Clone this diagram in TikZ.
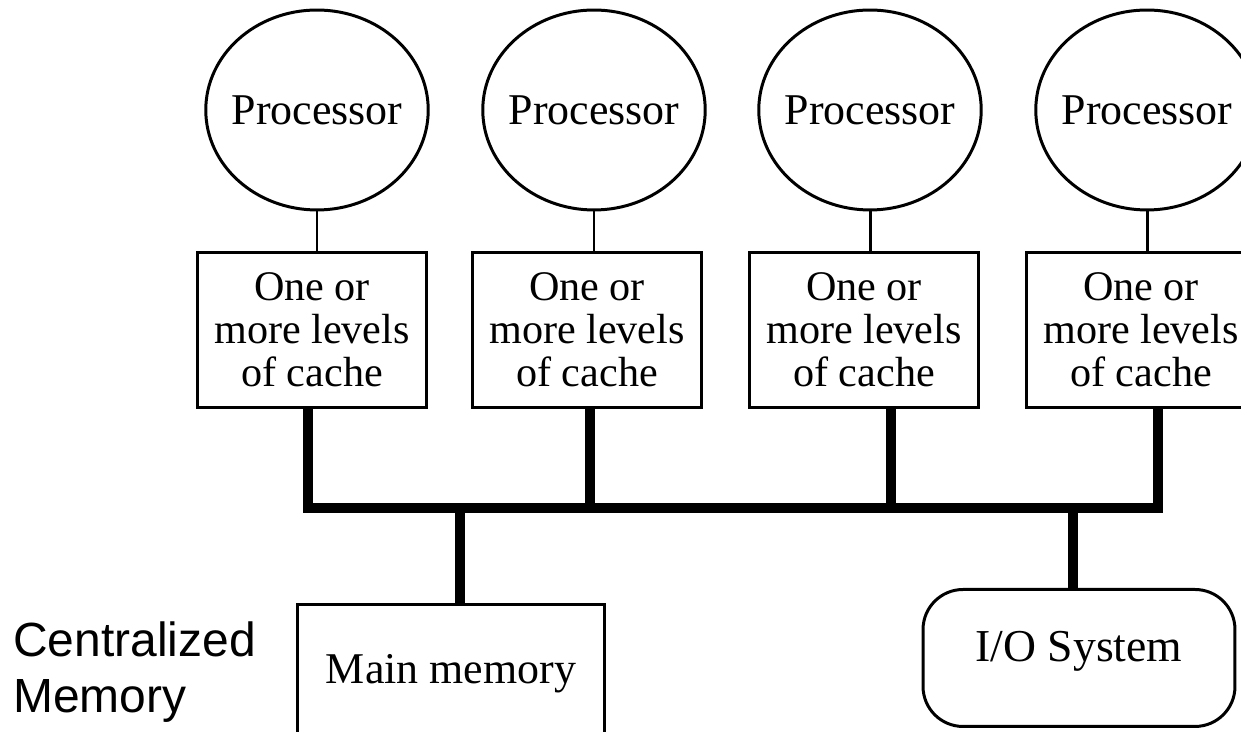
\documentclass[tikz,border=0pt]{standalone}
\usepackage{fontspec}
\setmainfont{Liberation Serif}
\setsansfont{Liberation Sans}
\usetikzlibrary{positioning,shapes.geometric,calc}

\begin{document}
\begin{tikzpicture}[x=0.02cm,y=-0.02cm,
    proc/.style={draw,ellipse,line width=1.7pt,minimum width=4.45cm,minimum height=4cm,inner xsep=-4.2pt,inner ysep=0pt,font=\fontsize{25}{25}\selectfont},
    cache/.style={draw,line width=1.7pt,minimum width=4.6cm,minimum height=3.1cm,align=center,inner sep=0pt,font=\fontsize{24}{24.5}\selectfont},
    store/.style={draw,line width=1.7pt,inner xsep=0pt,inner ysep=0pt,font=\fontsize{25}{25}\selectfont},
    link/.style={line width=1.7pt},
    bus/.style={line width=5.6pt}
  ]
    \useasboundingbox (0,0) rectangle (1241,732);
    \node[proc] (p1) at (317,110) {Processor};
    \node[proc] (p2) at (594,110) {Processor};
    \node[proc] (p3) at (870,110) {Processor};
    \node[proc] (p4) at (1147,110) {Processor};
    \node[cache] (c1) at (312,330) {One or\\more levels\\of cache};
    \node[cache] (c2) at (587,330) {One or\\more levels\\of cache};
    \node[cache] (c3) at (864,330) {One or\\more levels\\of cache};
    \node[cache] (c4) at (1141,330) {One or\\more levels\\of cache};
    \draw[link] (p1.south) -- (p1.south |- c1.north);
    \draw[link] (p2.south) -- (p2.south |- c2.north);
    \draw[link] (p3.south) -- (p3.south |- c3.north);
    \draw[link] (p4.south) -- (p4.south |- c4.north);
    \node[store,anchor=north,minimum width=6.16cm,text height=1.58cm,text depth=1.1cm] (mem) at (451,603) {Main memory};
    \node[store,anchor=north,minimum width=6.24cm,text height=1.44cm,text depth=1.3cm,rounded corners=0.8cm,font=\fontsize{26}{26}\selectfont] (io) at (1079,588) {I/O System};
    \node[font=\sffamily\fontsize{27.3}{31.9}\selectfont,align=left,anchor=north west,inner sep=0pt] (cmem) at (13,621) {Centralized\\Memory};
    % bus
    \coordinate (b1) at (308,508);
    \coordinate (b2) at (590,508);
    \coordinate (b3) at (891,508);
    \coordinate (b4) at (1158,508);
    \coordinate (bm) at (460,508);
    \coordinate (bi) at (1073,508);
    \draw[bus] (b1 |- c1.south) -- (b1) -- (b4) -- (b4 |- c4.south);
    \draw[bus] (b2 |- c2.south) -- (b2);
    \draw[bus] (b3 |- c3.south) -- (b3);
    \draw[bus] (bm) -- (bm |- mem.north);
    \draw[bus] (bi) -- (bi |- io.north);
\end{tikzpicture}
\end{document}
